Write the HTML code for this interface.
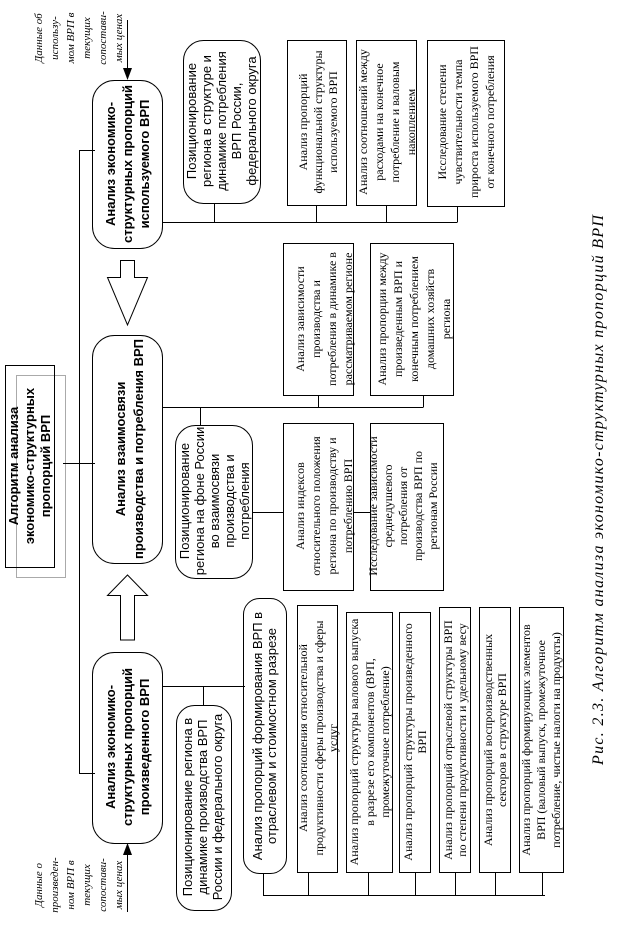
<!DOCTYPE html>
<html><head><meta charset="utf-8"><style>
html,body{margin:0;padding:0;background:#fff;}
svg{display:block;}
.b{font-family:"Liberation Sans",sans-serif;font-weight:bold;font-size:13px;}
.s{font-family:"Liberation Sans",sans-serif;font-size:13px;}
.r{font-family:"Liberation Serif",serif;font-size:12px;}
.i{font-family:"Liberation Serif",serif;font-style:italic;font-size:11px;}
</style></head><body>
<svg width="622" height="928" viewBox="0 0 622 928" xmlns="http://www.w3.org/2000/svg">
<g fill="none" stroke="#000" stroke-width="1">
<!-- main boxes -->
<rect x="92.5" y="80.5" width="70" height="168" rx="22"/>
<rect x="92.5" y="335.5" width="70" height="228" rx="22"/>
<rect x="92.5" y="652.5" width="70" height="191" rx="22"/>
<!-- title -->
<rect x="16.5" y="375.5" width="49" height="202" stroke="#aaa"/>
<rect x="5.5" y="365.5" width="49" height="202"/>
<line x1="63" y1="463.5" x2="95" y2="463.5"/>
<!-- left spine -->
<polyline points="95,150.5 79.5,150.5 79.5,773.5 95,773.5"/>
<!-- input arrows -->
<line x1="127.5" y1="20" x2="127.5" y2="70"/>
<line x1="127.5" y1="912" x2="127.5" y2="855"/>
<!-- hollow arrows -->
<polygon points="120.5,260.5 134.5,260.5 134.5,277.5 147.5,277.5 127.5,325 107.5,277.5 120.5,277.5"/>
<polygon points="120.5,640 134.5,640 134.5,595.5 147.5,595.5 127.5,575 107.5,595.5 120.5,595.5"/>
<!-- top section -->
<line x1="162" y1="222.5" x2="457.5" y2="222.5"/>
<line x1="214.5" y1="203" x2="214.5" y2="222"/>
<line x1="316.5" y1="205" x2="316.5" y2="222"/>
<line x1="386.5" y1="205" x2="386.5" y2="222"/>
<line x1="457.5" y1="206" x2="457.5" y2="222"/>
<rect x="183.5" y="40.5" width="77" height="163" rx="20"/>
<rect x="287.5" y="40.5" width="59" height="165"/>
<rect x="356.5" y="40.5" width="60" height="165"/>
<rect x="427.5" y="40.5" width="77" height="166"/>
<!-- middle section -->
<line x1="162" y1="407.5" x2="423.5" y2="407.5"/>
<line x1="200.5" y1="407" x2="200.5" y2="425"/>
<line x1="318.5" y1="395" x2="318.5" y2="407"/>
<line x1="423.5" y1="395" x2="423.5" y2="407"/>
<rect x="175.5" y="425.5" width="77" height="153" rx="20"/>
<rect x="283.5" y="243.5" width="70" height="152"/>
<rect x="370.5" y="243.5" width="83" height="152"/>
<rect x="283.5" y="423.5" width="70" height="167"/>
<rect x="370.5" y="423.5" width="73" height="167"/>
<line x1="252" y1="512.5" x2="283" y2="512.5"/>
<line x1="353" y1="512.5" x2="370" y2="512.5"/>
<!-- bottom section -->
<line x1="162" y1="686.5" x2="245" y2="686.5"/>
<line x1="203.5" y1="686" x2="203.5" y2="705"/>
<rect x="176.5" y="705.5" width="55" height="205" rx="18"/>
<rect x="243.5" y="598.5" width="43" height="275" rx="16"/>
<line x1="263.5" y1="873" x2="263.5" y2="895"/>
<line x1="263" y1="895.5" x2="545" y2="895.5"/>
<rect x="297.5" y="605.5" width="40" height="267"/>
<rect x="346.5" y="612.5" width="46" height="260"/>
<rect x="399.5" y="612.5" width="31" height="260"/>
<rect x="439.5" y="607.5" width="31" height="265"/>
<rect x="479.5" y="607.5" width="31" height="265"/>
<rect x="519.5" y="607.5" width="44" height="265"/>
<line x1="308.5" y1="872" x2="308.5" y2="895"/>
<line x1="368.5" y1="872" x2="368.5" y2="895"/>
<line x1="415.5" y1="872" x2="415.5" y2="895"/>
<line x1="455.5" y1="872" x2="455.5" y2="895"/>
<line x1="495.5" y1="872" x2="495.5" y2="895"/>
<line x1="542.5" y1="872" x2="542.5" y2="895"/>
</g>
<g fill="#000">
<polygon points="123,68 132,68 127.5,80"/>
<polygon points="123,855 132,855 127.5,843"/>
</g>
<g text-anchor="middle">
<!-- annotations -->
<text class="i" transform="translate(70,38) rotate(-90)"><tspan x="0" y="-28">Данные об</tspan><tspan x="0" dy="16">использу-</tspan><tspan x="0" dy="16">мом ВРП в</tspan><tspan x="0" dy="16">текущих</tspan><tspan x="0" dy="16">сопостави-</tspan><tspan x="0" dy="16">мых ценах</tspan></text>
<text class="i" transform="translate(70,885) rotate(-90)"><tspan x="0" y="-28">Данные о</tspan><tspan x="0" dy="16">произведен-</tspan><tspan x="0" dy="16">ном ВРП в</tspan><tspan x="0" dy="16">текущих</tspan><tspan x="0" dy="16">сопостави-</tspan><tspan x="0" dy="16">мых ценах</tspan></text>
<!-- main -->
<text class="b" transform="translate(127,164) rotate(-90)"><tspan x="0" y="-12">Анализ экономико-</tspan><tspan x="0" dy="17">структурных пропорций</tspan><tspan x="0" dy="17">используемого ВРП</tspan></text>
<text class="b" transform="translate(129,449) rotate(-90)"><tspan x="0" y="-4">Анализ взаимосвязи</tspan><tspan x="0" dy="18">производства и потребления ВРП</tspan></text>
<text class="b" transform="translate(127,747) rotate(-90)"><tspan x="0" y="-12">Анализ экономико-</tspan><tspan x="0" dy="17">структурных пропорций</tspan><tspan x="0" dy="17">произведенного ВРП</tspan></text>
<text class="b" transform="translate(30,466) rotate(-90)"><tspan x="0" y="-12">Алгоритм анализа</tspan><tspan x="0" dy="16">экономико-структурных</tspan><tspan x="0" dy="16">пропорций ВРП</tspan></text>
<!-- top -->
<text class="s" transform="translate(222,121) rotate(-90)"><tspan x="0" y="-26">Позиционирование</tspan><tspan x="0" dy="15">региона  в структуре и</tspan><tspan x="0" dy="15">динамике потребления</tspan><tspan x="0" dy="15">ВРП России,</tspan><tspan x="0" dy="15">федерального округа</tspan></text>
<text class="r" transform="translate(318,122) rotate(-90)"><tspan x="0" y="-11">Анализ пропорций</tspan><tspan x="0" dy="15">функциональной структуры</tspan><tspan x="0" dy="15">используемого ВРП</tspan></text>
<text class="r" transform="translate(386,122) rotate(-90)"><tspan x="0" y="-19">Анализ соотношений между</tspan><tspan x="0" dy="16">расходами на конечное</tspan><tspan x="0" dy="16">потребление и валовым</tspan><tspan x="0" dy="16">накоплением</tspan></text>
<text class="r" transform="translate(466,122) rotate(-90)"><tspan x="0" y="-20">Исследование степени</tspan><tspan x="0" dy="16">чувствительности темпа</tspan><tspan x="0" dy="16">прироста используемого ВРП</tspan><tspan x="0" dy="16">от конечного потребления</tspan></text>
<!-- middle -->
<text class="s" transform="translate(215,501) rotate(-90)"><tspan x="0" y="-26">Позиционирование</tspan><tspan x="0" dy="15">региона  на фоне России</tspan><tspan x="0" dy="15">во взаимосвязи</tspan><tspan x="0" dy="15">производства и</tspan><tspan x="0" dy="15">потребления</tspan></text>
<text class="r" transform="translate(324,319) rotate(-90)"><tspan x="0" y="-20">Анализ зависимости</tspan><tspan x="0" dy="16">производства и</tspan><tspan x="0" dy="16">потребления в динамике в</tspan><tspan x="0" dy="16">рассматриваемом регионе</tspan></text>
<text class="r" transform="translate(414,319) rotate(-90)"><tspan x="0" y="-28">Анализ пропорции между</tspan><tspan x="0" dy="16">произведенным ВРП и</tspan><tspan x="0" dy="16">конечным потреблением</tspan><tspan x="0" dy="16">домашних хозяйств</tspan><tspan x="0" dy="16">региона</tspan></text>
<text class="r" transform="translate(324,506) rotate(-90)"><tspan x="0" y="-20">Анализ индексов</tspan><tspan x="0" dy="16">относительного положения</tspan><tspan x="0" dy="16">региона по производству и</tspan><tspan x="0" dy="16">потреблению ВРП</tspan></text>
<text class="r" transform="translate(405,506) rotate(-90)"><tspan x="0" y="-28">Исследование зависимости</tspan><tspan x="0" dy="15">среднедушевого</tspan><tspan x="0" dy="15">потребления от</tspan><tspan x="0" dy="15">производства ВРП по</tspan><tspan x="0" dy="15">регионам России</tspan></text>
<!-- bottom -->
<text class="s" transform="translate(203,807) rotate(-90)"><tspan x="0" y="-11">Позиционирование региона  в</tspan><tspan x="0" dy="15">динамике производства ВРП</tspan><tspan x="0" dy="15">России и федерального округа</tspan></text>
<text class="s" transform="translate(265,736) rotate(-90)"><tspan x="0" y="-3">Анализ пропорций формирования ВРП в</tspan><tspan x="0" dy="14">отраслевом и  стоимостном разрезе</tspan></text>
<text class="r" transform="translate(318,738) rotate(-90)"><tspan x="0" y="-11">Анализ соотношения относительной</tspan><tspan x="0" dy="16">продуктивности сферы производства и сферы</tspan><tspan x="0" dy="14">услуг</tspan></text>
<text class="r" transform="translate(370,742) rotate(-90)"><tspan x="0" y="-12">Анализ пропорций структуры валового выпуска</tspan><tspan x="0" dy="16">в разрезе его компонентов (ВРП,</tspan><tspan x="0" dy="15">промежуточное потребление)</tspan></text>
<text class="r" transform="translate(415,742) rotate(-90)"><tspan x="0" y="-3">Анализ пропорций структуры произведенного</tspan><tspan x="0" dy="14">ВРП</tspan></text>
<text class="r" transform="translate(455,740) rotate(-90)"><tspan x="0" y="-3">Анализ пропорций отраслевой структуры ВРП</tspan><tspan x="0" dy="14">по степени продуктивности и удельному весу</tspan></text>
<text class="r" transform="translate(495,740) rotate(-90)"><tspan x="0" y="-3">Анализ пропорций воспроизводственных</tspan><tspan x="0" dy="14">секторов в структуре ВРП</tspan></text>
<text class="r" transform="translate(541,740) rotate(-90)"><tspan x="0" y="-11">Анализ пропорций формирующих элементов</tspan><tspan x="0" dy="15">ВРП (валовый выпуск, промежуточное</tspan><tspan x="0" dy="15">потребление, чистые налоги на продукты)</tspan></text>
<!-- caption -->
<text transform="translate(603,490) rotate(-90)" font-family="Liberation Serif, serif" font-style="italic" font-size="16" textLength="550" lengthAdjust="spacing">Рис. 2.3. Алгоритм анализа экономико-структурных пропорций ВРП</text>
</g>
</svg>
</body></html>
